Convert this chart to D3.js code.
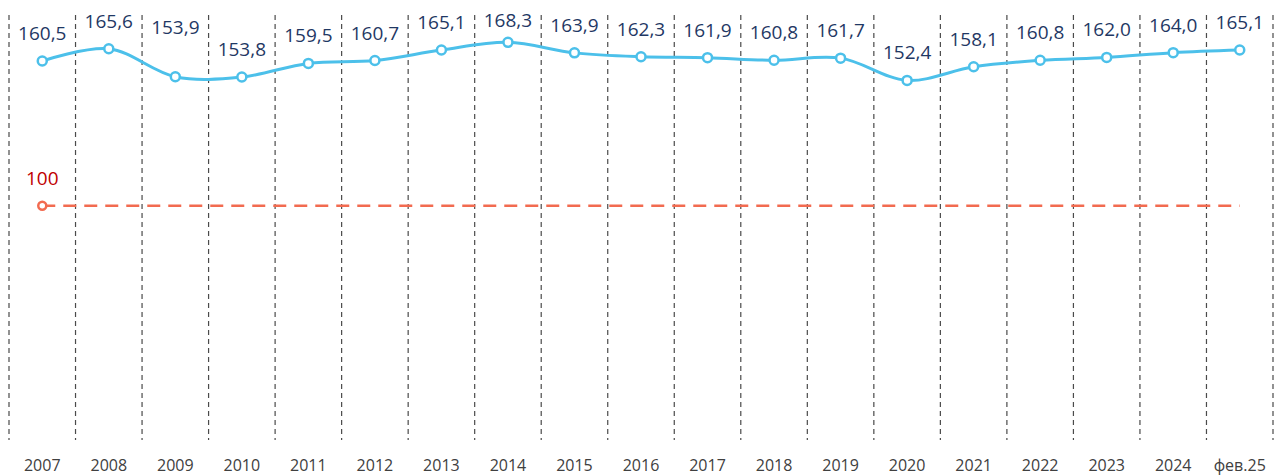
<!DOCTYPE html>
<html><head><meta charset="utf-8">
<script src="https://cdn.jsdelivr.net/npm/d3@7"></script>
<style>html,body{margin:0;padding:0;background:#fff;}svg{display:block;}</style>
</head><body>
<svg id="c" width="1276" height="476"></svg>
<script>
const categories = ["2007","2008","2009","2010","2011","2012","2013","2014","2015","2016","2017","2018","2019","2020","2021","2022","2023","2024","фев.25"];
const values = [160.5,165.6,153.9,153.8,159.5,160.7,165.1,168.3,163.9,162.3,161.9,160.8,161.7,152.4,158.1,160.8,162.0,164.0,165.1];
const baseline = categories.map(() => 100);
const baseLabel = "100";

// label placement tweak (layout only): labels manually lifted in the original
const liftedLabels = { "2009": 50 };

const svg = d3.select("#c");
const font = "'Open Sans', sans-serif";
const x = d3.scaleBand().domain(categories).range([9, 1273]).padding(0);
const y = d3.scaleLinear().domain([0, 186]).range([445, 0]);
const cx = d => x(d) + x.bandwidth() / 2;
const fmt = v => d3.format(".1f")(v).replace(".", ",");

// vertical dashed gridlines
const edges = categories.map(c => x(c)).concat([x(categories[categories.length - 1]) + x.bandwidth()]);
svg.append("g").selectAll("line").data(edges).join("line")
  .attr("x1", d => d).attr("x2", d => d).attr("y1", 15).attr("y2", 440)
  .attr("stroke", "#4a4a4a").attr("stroke-width", 1.2).attr("stroke-dasharray", "5,4");

// x axis labels
svg.append("g").selectAll("text").data(categories).join("text")
  .attr("x", d => cx(d)).attr("y", 471).attr("text-anchor", "middle")
  .attr("font-family", font).attr("font-size", 16).attr("fill", "#404040").text(d => d);

// baseline 100
svg.append("path")
  .attr("d", d3.line().x((d, i) => cx(categories[i])).y(d => y(d))(baseline))
  .attr("fill", "none").attr("stroke", "#F26B50").attr("stroke-width", 2.5).attr("stroke-dasharray", "13,8");
svg.append("circle").attr("cx", cx(categories[0])).attr("cy", y(baseline[0])).attr("r", 4)
  .attr("fill", "#fff").attr("stroke", "#F26B50").attr("stroke-width", 2.5);
svg.append("text").attr("x", cx(categories[0])).attr("y", y(baseline[0]) - 21).attr("text-anchor", "middle")
  .attr("font-family", font).attr("font-size", 19).attr("fill", "#C00000").text(baseLabel);

// main line
svg.append("path")
  .attr("d", d3.line().x((d, i) => cx(categories[i])).y(d => y(d)).curve(d3.curveCatmullRom.alpha(0.5))(values))
  .attr("fill", "none").attr("stroke", "#4CC0EA").attr("stroke-width", 3);
svg.append("g").selectAll("circle").data(values).join("circle")
  .attr("cx", (d, i) => cx(categories[i])).attr("cy", d => y(d)).attr("r", 4.5)
  .attr("fill", "#fff").attr("stroke", "#4CC0EA").attr("stroke-width", 2.5);

// value labels
svg.append("g").selectAll("text").data(values).join("text")
  .attr("x", (d, i) => cx(categories[i]))
  .attr("y", (d, i) => Math.max(y(d) - 28 - (liftedLabels[categories[i]] ? liftedLabels[categories[i]] - 28 : 0), 20) + 7)
  .attr("text-anchor", "middle").attr("font-family", font).attr("font-size", 19)
  .attr("fill", "#1F3864").text(d => fmt(d));
</script>
</body></html>
